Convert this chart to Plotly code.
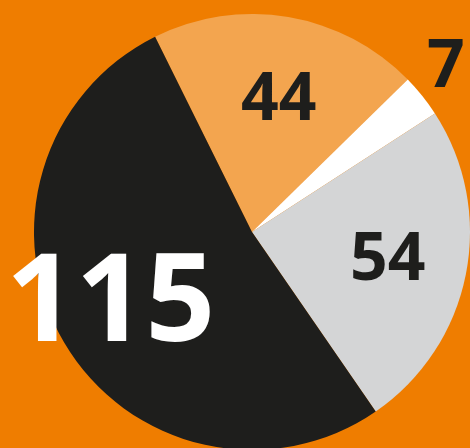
import plotly.graph_objects as go

labels = ["44", "7", "54", "115"]
values = [44, 7, 54, 115]
colors = ["#F3A54F", "#FFFFFF", "#D4D5D6", "#1E1E1C"]
label_colors = ["#1E1E1C", "#1E1E1C", "#1E1E1C", "#FFFFFF"]
label_sizes = [66, 66, 66, 122]
label_pos = [(278, 94), (446, 61), (387, 254), (110, 294)]

W, H = 470, 452
cx, cy, r = 252, 232, 218

fig = go.Figure(go.Pie(
    labels=labels, values=values, sort=False, direction="clockwise",
    rotation=-26.4,
    marker=dict(colors=colors, line=dict(width=0)),
    textinfo="none", hoverinfo="none", showlegend=False,
    domain=dict(x=[(cx - r) / W, min(1.0, (cx + r) / W)],
                y=[max(0.0, (H - cy - r) / H), (H - cy + r) / H]),
))

for lab, col, sz, (px, py) in zip(labels, label_colors, label_sizes, label_pos):
    fig.add_annotation(
        x=px / W, y=1 - py / H, xref="paper", yref="paper",
        text=lab, showarrow=False, xanchor="center", yanchor="middle",
        font=dict(family="Open Sans", size=sz, color=col, weight=700),
    )

fig.update_layout(
    width=W, height=H, margin=dict(l=0, r=0, t=0, b=0),
    paper_bgcolor="#EF7D00", plot_bgcolor="#EF7D00",
)
fig.write_html(
    "out.html",
    config={"displayModeBar": False},
    post_script="document.body.style.margin='0';document.body.style.overflow='hidden';",
)
